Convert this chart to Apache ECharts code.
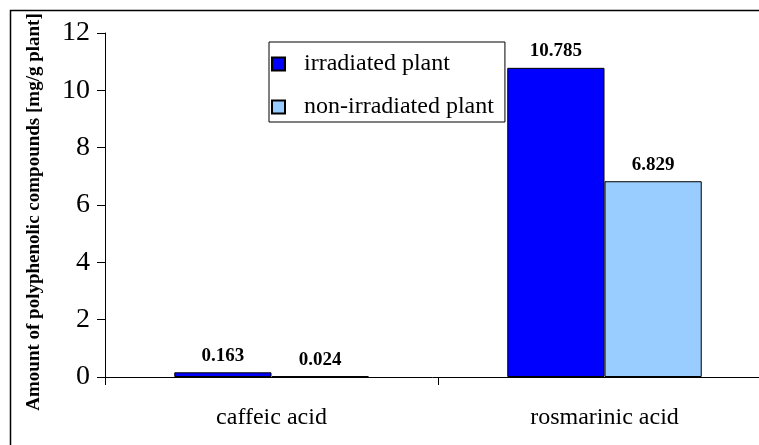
<!DOCTYPE html>
<html>
<head>
<meta charset="utf-8">
<script src="https://cdn.jsdelivr.net/npm/echarts@6/dist/echarts.min.js"></script>
<style>
html,body{margin:0;padding:0;background:#fff;}
#chart{width:759px;height:445px;}
</style>
</head>
<body>
<div id="chart"></div>
<script>
const categories = ['caffeic acid', 'rosmarinic acid'];
const irradiated = [0.163, 10.785];
const nonIrradiated = [0.024, 6.829];
const seriesNames = ['irradiated plant', 'non-irradiated plant'];
const yTicks = { min: 0, max: 12, interval: 2 };
const yTitle = 'Amount of polyphenolic compounds [mg/g plant]';

const FONT = "'Liberation Serif', 'Times New Roman', serif";
const chart = echarts.init(document.getElementById('chart'), null, { renderer: 'canvas' });

const labelCfg = {
  show: true,
  position: 'top',
  distance: 7,
  fontFamily: FONT,
  fontWeight: 'bold',
  fontSize: 19,
  color: '#000',
  formatter: p => p.value.toFixed(3)
};

chart.setOption({
  backgroundColor: '#fff',
  animation: false,
  grid: { left: 105, top: 33, width: 666, height: 344, containLabel: false, outerBoundsMode: 'none' },
  graphic: [
    { type: 'rect', shape: { x: 10.5, y: 10.5, width: 800, height: 500 }, style: { fill: 'none', stroke: '#000', lineWidth: 1.5 }, z: 100 },
    { type: 'text', x: 34, y: 212, rotation: Math.PI / 2,
      style: { text: yTitle, fontFamily: FONT, fontWeight: 'bold', fontSize: 19, fill: '#000', align: 'center', verticalAlign: 'middle' } }
  ],
  legend: {
    orient: 'vertical',
    left: 269, top: 42,
    padding: [10, 11, 3, 2],
    itemGap: 19,
    itemWidth: 13, itemHeight: 13,
    borderColor: '#000', borderWidth: 1,
    backgroundColor: '#fff',
    icon: 'rect',
    textStyle: { fontFamily: FONT, fontSize: 24, color: '#000', lineHeight: 24, padding: [0, 0, 0, 14] },
    data: seriesNames
  },
  xAxis: {
    type: 'category',
    data: categories,
    axisLine: { lineStyle: { color: '#000', width: 1 } },
    axisTick: { show: true, length: 8, lineStyle: { color: '#000' } },
    axisLabel: { fontFamily: FONT, fontSize: 24, color: '#000', margin: 29 },
    splitLine: { show: false }
  },
  yAxis: {
    type: 'value',
    min: yTicks.min, max: yTicks.max, interval: yTicks.interval,
    axisLine: { show: true, lineStyle: { color: '#000', width: 1 } },
    axisTick: { show: true, length: 8, lineStyle: { color: '#000' } },
    axisLabel: { fontFamily: FONT, fontSize: 28, color: '#000', margin: 15 },
    splitLine: { show: false }
  },
  series: [
    { name: seriesNames[0], type: 'bar', data: irradiated, barGap: '0%', barCategoryGap: '41.6%',
      itemStyle: { color: '#0000FF', borderColor: '#000', borderWidth: 1 }, label: labelCfg },
    { name: seriesNames[1], type: 'bar', data: nonIrradiated,
      itemStyle: { color: '#99CCFF', borderColor: '#000', borderWidth: 1 }, label: labelCfg }
  ]
});
</script>
</body>
</html>
